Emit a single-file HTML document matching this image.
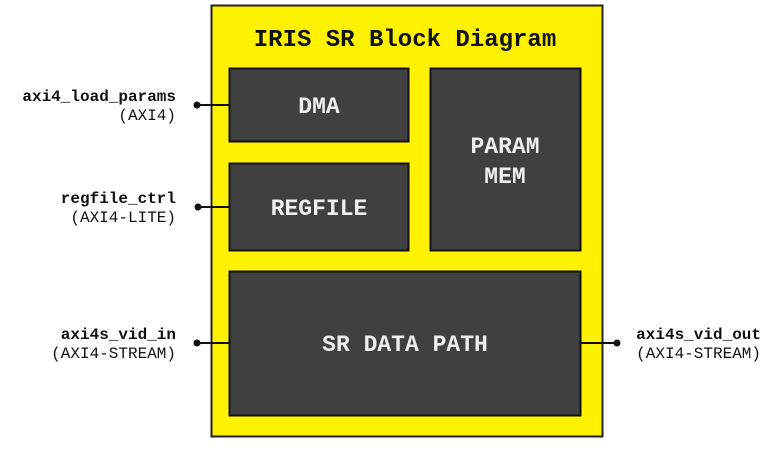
<!DOCTYPE html>
<html><head><style>
body{margin:0;width:771px;height:456px;background:#fff;overflow:hidden}
svg text{font-family:"Liberation Mono",monospace}
</style></head><body>
<svg width="771" height="456" viewBox="0 0 771 456">
<rect x="211.5" y="5.5" width="391" height="431" fill="#fff200" stroke="#222" stroke-width="2"/>
<text x="405" y="46" text-anchor="middle" font-size="24" font-weight="bold" fill="#111">IRIS SR Block Diagram</text>
<g fill="#404040" stroke="#111" stroke-width="2">
<rect x="229.5" y="68.5" width="179" height="73"/>
<rect x="229.5" y="163.5" width="179" height="87"/>
<rect x="430.5" y="68.5" width="150" height="182"/>
<rect x="229.5" y="271.5" width="351" height="144"/>
</g>
<g fill="#eee" font-size="23" font-weight="bold" text-anchor="middle">
<text x="319" y="113">DMA</text>
<text x="319" y="215">REGFILE</text>
<text x="505" y="153">PARAM</text>
<text x="505" y="183">MEM</text>
<text x="405" y="351">SR DATA PATH</text>
</g>
<g stroke="#111" stroke-width="2">
<line x1="197" y1="105" x2="229" y2="105"/>
<line x1="197" y1="207" x2="229" y2="207"/>
<line x1="197" y1="343" x2="229" y2="343"/>
<line x1="580" y1="343" x2="617" y2="343"/>
</g>
<g fill="#111">
<circle cx="197" cy="105" r="3.5"/><circle cx="198" cy="207" r="3.5"/>
<circle cx="197" cy="343" r="3.5"/><circle cx="617" cy="343" r="3.5"/>
</g>
<g font-size="16" fill="#111" text-anchor="end">
<text x="176" y="101" font-weight="bold">axi4_load_params</text>
<text x="176" y="120">(AXI4)</text>
<text x="176" y="203" font-weight="bold">regfile_ctrl</text>
<text x="176" y="222">(AXI4-LITE)</text>
<text x="176" y="339" font-weight="bold">axi4s_vid_in</text>
<text x="176" y="358">(AXI4-STREAM)</text>
<text x="761" y="339" font-weight="bold">axi4s_vid_out</text>
<text x="761" y="358">(AXI4-STREAM)</text>
</g>
</svg>
</body></html>
